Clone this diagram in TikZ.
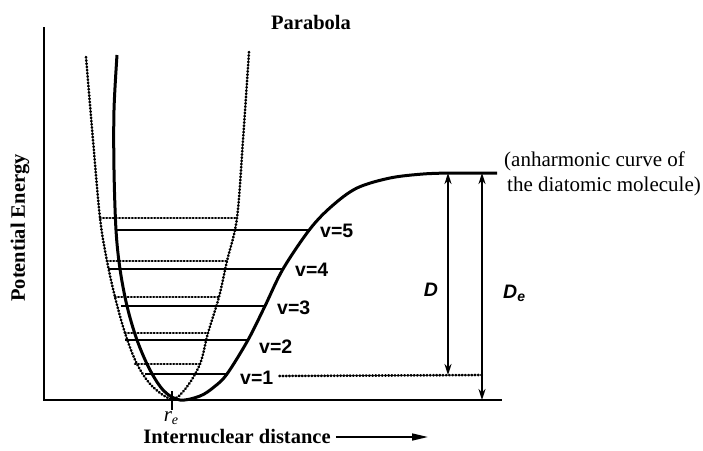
\documentclass[tikz,border=0pt]{standalone}
\usepackage{fontspec}
\setmainfont{Liberation Serif}
\newfontfamily\lsans{Liberation Sans}
\usetikzlibrary{arrows.meta}
\begin{document}
\begin{tikzpicture}[x=1pt,y=-1pt,
  axis/.style={line width=2.2pt},
  morse/.style={line width=3pt, line join=round},
  dotline/.style={line width=2.6pt, line cap=round, dash pattern=on 0.7pt off 2.5pt},
  level/.style={line width=2.4pt},
  vlab/.style={font=\lsans\bfseries\fontsize{19.5}{22}\selectfont, inner sep=0pt, anchor=west},
  dimarrow/.style={line width=2.8pt, {Stealth[length=11pt,width=7pt]}-{Stealth[length=11pt,width=7pt]}},
  boldserif/.style={font=\bfseries\fontsize{20.5}{24}\selectfont, inner sep=0pt},
  plainserif/.style={font=\fontsize{21}{25}\selectfont, inner sep=0pt}
]
\useasboundingbox (0,0) rectangle (703,450);

% axes
\coordinate (ytop) at (44,27);
\coordinate (orig) at (44,400);
\coordinate (xend) at (502,400);
\draw[axis] (ytop) -- (orig) -- (xend);

% parabola (dotted)
\draw[dotline] plot[smooth, tension=0.55] coordinates {
  (86,57) (93,140) (100,218) (107,261) (115,297) (125,333) (137,364) (152,386) (172,399)
  (186,388) (200,364) (208,333) (219,297) (227,261) (237,218) (243,140) (249,52)};

% harmonic levels (dotted)
\foreach \y/\a/\b in {218/100/237, 261/107/227, 297/115/219, 333/125/208, 364/135/200}
  \draw[dotline] (\a,\y) -- (\b,\y);

% Morse curve
\draw[morse] plot[smooth, tension=0.55] coordinates {
  (117,55) (114,110) (114,170) (116,230) (120,269) (127,306) (137,340) (150,370) (164,391)
  (180,400) (200,396) (214,387) (227,374) (248,340) (265,306) (283,269) (310,229) (332,206)
  (357,188) (390,178) (423,174) (450,173)} -- (497,173);
\coordinate (plat) at (497,173);

% anharmonic levels
\draw[level] (117,230) -- (310,230);
\draw[level] (108,269) -- (283,269);
\draw[level] (121,306) -- (265,306);
\draw[level] (125,340) -- (248,340);
\draw[level] (145,374) -- (227,374);

\node[vlab] (v5) at (320,231) {v=5};
\node[vlab] (v4) at (295,270) {v=4};
\node[vlab] (v3) at (277,308) {v=3};
\node[vlab] (v2) at (259,347) {v=2};
\node[vlab] (v1) at (240,378) {v=1};

% dissociation arrows
\coordinate (Dtop) at (448,173);
\coordinate (Dbot) at (448,375);
\coordinate (Detop) at (482,173);
\coordinate (Debot) at (482,400);
\draw[dotline] (v1.east) ++(6,-2) coordinate (v1d) -- (Debot |- Dbot);
\draw[dimarrow] (Dtop) -- (Dbot);
\draw[dimarrow] (Detop) -- (Debot);
\node[font=\lsans\bfseries\itshape\fontsize{19.5}{22}\selectfont, inner sep=0pt] (Dlab) at (431,290) {D};
\node[font=\lsans\bfseries\itshape\fontsize{19.5}{22}\selectfont, inner sep=0pt, anchor=west] (Delab) at (503,293) {D\raisebox{-3pt}{\fontsize{14}{16}\selectfont e}};

% r_e tick
\coordinate (retop) at (172,391);
\coordinate (rebot) at (172,410);
\draw[line width=2pt] (retop) -- (rebot);
\node[font=\itshape\fontsize{21}{24}\selectfont, inner sep=0pt] (re) at (171,418) {r\raisebox{-3pt}{\fontsize{14}{16}\selectfont e}};

% labels
\node[boldserif] (title) at (311,22) {Parabola};
\node[boldserif, rotate=90] (ylab) at (20,228) {Potential Energy};
\node[boldserif] (xlab) at (237,437) {Internuclear distance};
\coordinate (xarr) at (428,437);
\draw[line width=1.6pt, -{Triangle[length=16pt,width=7pt]}] ([xshift=5pt]xlab.east) -- (xarr);
\node[plainserif, align=left, anchor=north west] (note) at (504,152) {(anharmonic curve of\\\hspace{3pt}the diatomic molecule)};
\end{tikzpicture}
\end{document}
